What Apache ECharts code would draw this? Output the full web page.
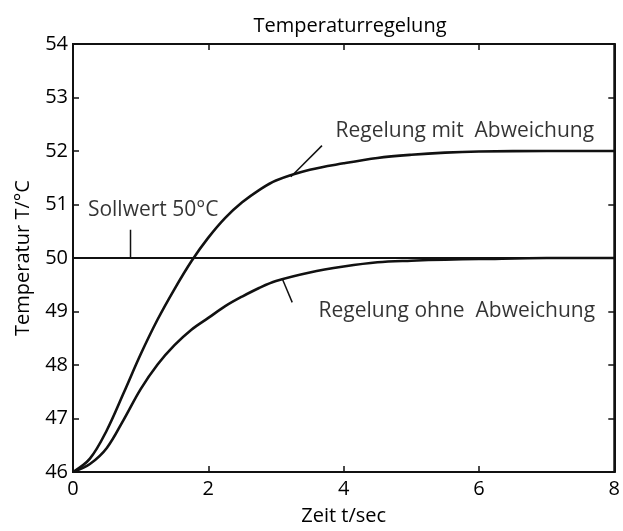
<!DOCTYPE html>
<html><head><meta charset="utf-8">
<script src="https://cdn.jsdelivr.net/npm/echarts@6/dist/echarts.min.js"></script>
<style>html,body{margin:0;padding:0;background:#fff}#c{width:623px;height:531px}</style>
</head><body><div id="c"></div>
<script>
const titleText = 'Temperaturregelung';
const xName = 'Zeit t/sec';
const yName = 'Temperatur T/°C';
const xTicks = [0, 2, 4, 6, 8];
const yTicks = [46, 47, 48, 49, 50, 51, 52, 53, 54];
const times      = [0, 0.25, 0.5, 0.75, 1.0, 1.25, 1.5, 1.75, 2.0, 2.25, 2.5, 2.75, 3.0, 3.5, 4.0, 4.5, 5.0, 5.5, 6.0, 7.0, 8.0];
const mitAbw     = [46, 46.25, 46.78, 47.48, 48.2, 48.85, 49.42, 49.94, 50.38, 50.75, 51.04, 51.27, 51.45, 51.65, 51.77, 51.87, 51.93, 51.97, 51.99, 52.0, 52.0];
const ohneAbw    = [46, 46.15, 46.45, 46.98, 47.55, 48.01, 48.37, 48.66, 48.88, 49.1, 49.28, 49.44, 49.57, 49.73, 49.84, 49.92, 49.95, 49.97, 49.98, 50.0, 50.0];
const sollTimes  = [0, 8];
const sollwert   = [50, 50];
const annoTexts  = ['Sollwert 50°C', 'Regelung mit  Abweichung', 'Regelung ohne  Abweichung'];
const annoPos    = [[0.22, 50.89], [3.88, 52.38], [3.63, 49.0]];
const pointers   = [
  [[0.85, 50.53], [0.85, 50.0]],
  [[3.68, 52.10], [3.22, 51.52]],
  [[3.09, 49.62], [3.24, 49.17]]
];
const ink = '#111';
const font = 'Open Sans';
const fs = 20;
const chart = echarts.init(document.getElementById('c'), null, {renderer: 'canvas'});
const zip = (a, b) => a.map((v, i) => [v, b[i]]);
const series = [
  {type: 'line', data: zip(times, mitAbw), smooth: 0.35, symbol: 'none', lineStyle: {color: ink, width: 2.6}, z: 5},
  {type: 'line', data: zip(times, ohneAbw), smooth: 0.35, symbol: 'none', lineStyle: {color: ink, width: 2.6}, z: 5},
  {type: 'line', data: zip(sollTimes, sollwert), symbol: 'none', lineStyle: {color: ink, width: 2.2}, z: 4}
];
pointers.forEach(p => series.push({type: 'line', data: p, symbol: 'none', lineStyle: {color: ink, width: 1.5}, z: 6}));
series.push({
  type: 'scatter', symbolSize: 0, z: 7,
  data: annoPos.map((p, i) => ({value: p, name: annoTexts[i]})),
  label: {show: true, position: 'right', distance: 0, formatter: p => p.name, color: '#000', fontFamily: font, fontSize: 21, verticalAlign: 'middle'}
});
const axisStyle = {lineStyle: {color: ink, width: 2}};
chart.setOption({
  animation: false,
  backgroundColor: '#fff',
  title: {text: titleText, left: 345, top: 11, textAlign: 'center', textStyle: {fontFamily: font, fontSize: fs, fontWeight: 'normal', color: '#000'}},
  grid: {left: 73, right: 6, top: 44, bottom: 58, show: true, borderColor: ink, borderWidth: 2, backgroundColor: 'transparent'},
  xAxis: [
    {type: 'value', min: xTicks[0], max: xTicks[xTicks.length - 1], interval: 2, position: 'bottom',
     name: xName, nameLocation: 'middle', nameGap: 34, nameTextStyle: {fontFamily: font, fontSize: fs, color: '#000'},
     axisLine: {show: true, onZero: false, ...axisStyle}, axisTick: {show: true, inside: true, length: 6, lineStyle: {color: ink, width: 1.5}},
     axisLabel: {fontFamily: font, fontSize: fs, color: '#000', margin: 7}, splitLine: {show: false}},
    {type: 'value', min: xTicks[0], max: xTicks[xTicks.length - 1], interval: 2, position: 'top',
     axisLine: {show: true, onZero: false, ...axisStyle}, axisTick: {show: true, inside: true, length: 6, lineStyle: {color: ink, width: 1.5}},
     axisLabel: {show: false}, splitLine: {show: false}}
  ],
  yAxis: [
    {type: 'value', min: yTicks[0], max: yTicks[yTicks.length - 1], interval: 1, position: 'left',
     name: yName, nameLocation: 'middle', nameGap: 40, nameTextStyle: {fontFamily: font, fontSize: fs, color: '#000'},
     axisLine: {show: true, onZero: false, ...axisStyle}, axisTick: {show: true, inside: true, length: 6, lineStyle: {color: ink, width: 1.5}},
     axisLabel: {fontFamily: font, fontSize: fs, color: '#000', margin: 5}, splitLine: {show: false}},
    {type: 'value', min: yTicks[0], max: yTicks[yTicks.length - 1], interval: 1, position: 'right',
     axisLine: {show: true, onZero: false, ...axisStyle}, axisTick: {show: true, inside: true, length: 6, lineStyle: {color: ink, width: 1.5}},
     axisLabel: {show: false}, splitLine: {show: false}}
  ],
  series: series
});
</script></body></html>
